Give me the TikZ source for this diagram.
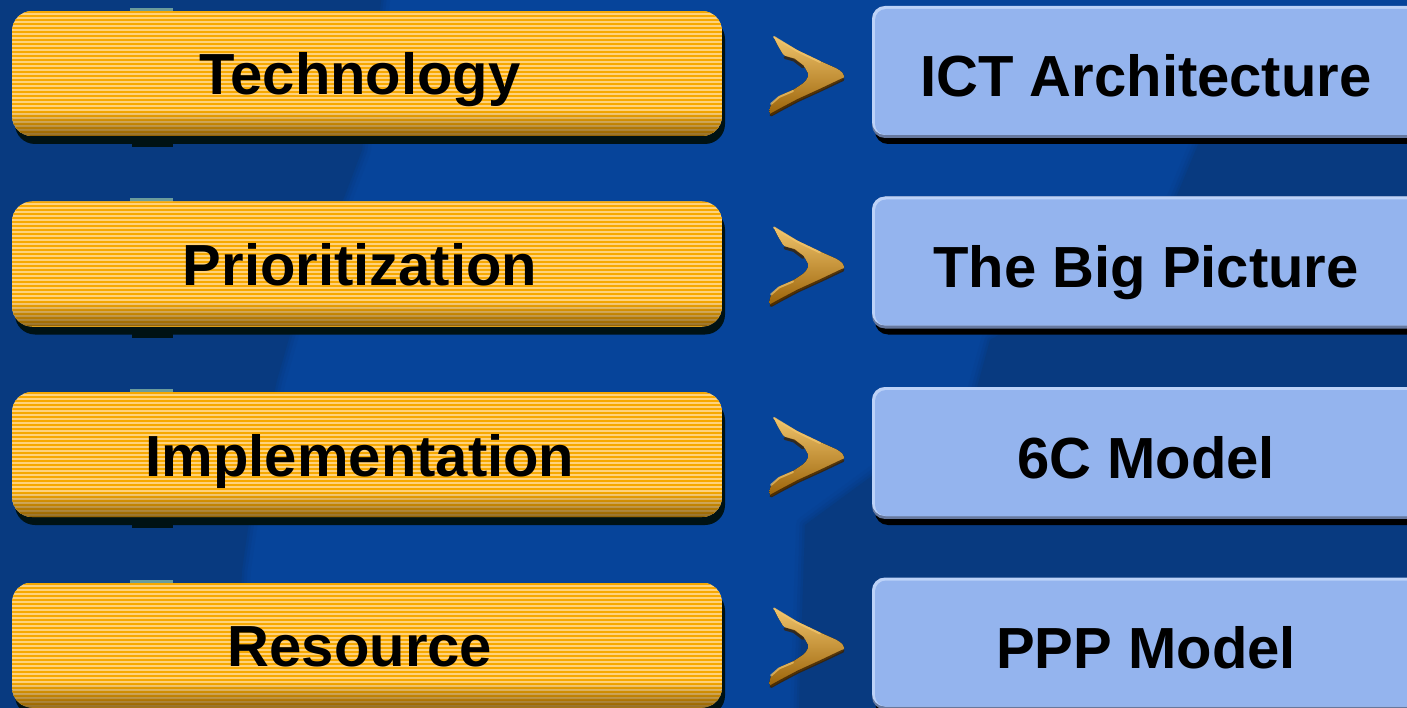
\documentclass[tikz,border=0pt]{standalone}
\usepackage{fontspec}
\setmainfont{Liberation Sans}
\usetikzlibrary{fadings}
\definecolor{bgl}{HTML}{06449A}
\definecolor{bgd}{HTML}{083A80}
\definecolor{orD}{HTML}{F7A800}
\definecolor{orL}{HTML}{FFD27C}
\definecolor{orB}{HTML}{6E4A08}
\definecolor{shd}{HTML}{001214}
\definecolor{blF}{HTML}{94B4EE}
\definecolor{blH}{HTML}{BCD2F8}
\definecolor{blE}{HTML}{66789E}
\definecolor{tabc}{HTML}{6C9C9C}
\definecolor{arL}{HTML}{F0C46C}
\definecolor{arM}{HTML}{D8961C}
\definecolor{arB}{HTML}{9A6208}
\definecolor{arD}{HTML}{3A2000}
\tikzset{
  lbl/.style={font=\fontsize{58}{60}\selectfont\bfseries, anchor=base, inner sep=0pt, text=black},
  darkA/.style={insert path={(-30,-30) -- (385,-30) -- (362,150) -- (345,195) -- (300,300) -- (277,380) -- (255,480) -- (242,570) -- (235,740) -- (-30,740) -- cycle}},
  darkB/.style={insert path={(1200,140) -- (1175,200) -- (1060,300) -- (990,340) -- (975,395) -- (880,470) -- (805,525) -- (798,740) -- (1440,740) -- (1440,140) -- cycle}},
  softdark/.style={bgd, line join=round},
}
\begin{document}
\begin{tikzpicture}[x=1pt,y=-1pt]
\useasboundingbox (0,0) rectangle (1407,708);
\fill[bgl] (-5,-5) rectangle (1412,713);
% darker background areas with soft edges
\foreach \w/\o in {18/0.15,11/0.25,5/0.4}{
  \draw[softdark, line width=\w, opacity=\o, darkA];
  \draw[softdark, line width=\w, opacity=\o, darkB];
}
\fill[bgd, darkA];
\fill[bgd, darkB];

\foreach \i/\lt/\rt in {0/Technology/ICT Architecture, 1/Prioritization/The Big Picture, 2/Implementation/6C Model, 3/Resource/PPP Model}{
  \pgfmathsetmacro\oy{190.5*\i}
  \begin{scope}[shift={(0,\oy)}]
    % ---- orange box ----
    \fill[shd, rounded corners=20] (15,19) rectangle (725,144);
    \fill[shd] (132,143) rectangle (173,147);
    \fill[tabc] (130,8) rectangle (173,11.5);
    \begin{scope}
      \clip[rounded corners=20] (12,11) rectangle (722,136);
      \fill[orL] (12,11) rectangle (722,136);
      \foreach \k in {0,...,31}{
        \fill[orD] (12,{11+4*\k}) rectangle (722,{13+4*\k});
      }
      \fill[orB, opacity=0.75, path fading=north] (12,110) rectangle (722,136);
    \end{scope}
    \node[lbl] (o\i) at (360,95) {\lt};
    % ---- chevron ----
    \fill[rounded corners=2, top color=arL, middle color=arM, bottom color=arB]
      (773,36) -- (797,50) -- (820,61) -- (838,69) -- (844,74) -- (844,79)
      -- (822,90) -- (798,101) -- (781,110) -- (771,116) -- (769,112)
      -- (771,104) -- (779,96) -- (793,90) -- (805,82) -- (809,75)
      -- (804,66) -- (794,59) -- (784,56) -- (778,46) -- cycle;
    \draw[arD, line width=3, line cap=round, opacity=0.75] (785,57.5) -- (794,60) -- (803,67);
    \draw[arD, line width=3, line cap=round, opacity=0.8] (843,79.5) -- (822,89.5) -- (798,100.5) -- (781,109.5) -- (771,115);
    \draw[arL, line width=2, line cap=round, opacity=0.8] (774,37) -- (797,51) -- (820,62);
    \draw[arL, line width=2, line cap=round, opacity=0.7] (771,104) -- (779,97) -- (793,91);
    % ---- blue box ----
    \fill[black, rounded corners=13] (875,12) rectangle (1425,144);
    \begin{scope}
      \clip[rounded corners=13] (872,6) rectangle (1422,138);
      \fill[blE] (872,6) rectangle (1422,138);
      \fill[blH, rounded corners=13] (872,6) rectangle (1422,135);
      \fill[blF, rounded corners=11] (875,9) rectangle (1425,135);
    \end{scope}
    \node[lbl] (b\i) at (1146,97) {\rt};
  \end{scope}
}
\end{tikzpicture}
\end{document}
